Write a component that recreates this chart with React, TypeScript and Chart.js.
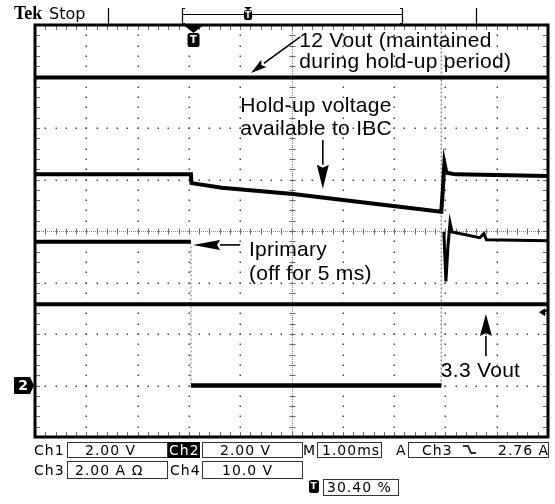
import React, { useEffect, useRef } from "react";
import { Chart, registerables } from "chart.js";

Chart.register(...registerables);

// Horizontal axis: time in ms (10 divisions x 1.00 ms). Vertical axis: screen divisions (-4..4).
const X_MIN = 0;
const X_MAX = 10;
const Y_MIN = -4;
const Y_MAX = 4;

// 12 Vout trace
const vout12T = [0, 10];
const vout12Y = [2.98, 2.98];

// Hold-up voltage available to IBC
const holdupT = [0, 3.04, 3.05, 3.64, 5.03, 7.92, 7.95, 7.98, 8.02, 8.2, 10];
const holdupY = [1.1, 1.1, 0.93, 0.84, 0.72, 0.375, 0.8, 1.32, 1.13, 1.1, 1.07];

// Iprimary (off for ~5 ms)
const iprimPreT = [0, 3.04];
const iprimPreY = [-0.21, -0.21];
const iprimPostT = [7.97, 8.01, 8.05, 8.09, 8.13, 8.67, 8.75, 8.8, 10];
const iprimPostY = [-0.02, -0.98, -0.3, 0.16, -0.02, -0.13, -0.05, -0.17, -0.19];

// 3.3 Vout trace
const vout33T = [0, 10];
const vout33Y = [-1.42, -1.42];

// Ch2 (ground reference marker at -3 div)
const ch2T = [3.04, 7.92];
const ch2Y = [-3, -3];
const ch2FallT = [3.04, 3.04];
const ch2FallY = [-0.3, -3];
const ch2RiseT = [7.92, 7.92];
const ch2RiseY = [-3, 4.2];

// Annotation texts
const noteVout12 = ["12 Vout (maintained", "during hold-up period)"];
const noteHoldup = ["Hold-up voltage", "available to IBC"];
const noteIprim = ["Iprimary", "(off for 5 ms)"];
const noteVout33 = ["3.3 Vout"];

// Readout texts
const chLabels = ["Ch1", "Ch2", "Ch3", "Ch4"];
const chScales = ["2.00 V", "2.00 V", "2.00 A \u03A9", "10.0 V"];
const timebase = "1.00ms";
const trigSource = "Ch3";
const trigLevel = "2.76 A";
const trigPos = "30.40 %";
const trigT = 3.09;
const ch2Ground = -3;
const trigLevelDiv = -1.58;

const pts = (ts: number[], vs: (number | null)[]) => ts.map((t, i) => ({ x: t, y: vs[i] }));

function arrow(ctx: CanvasRenderingContext2D, x1: number, y1: number, x2: number, y2: number, headLen: number, headW: number, lw: number) {
  const ang = Math.atan2(y2 - y1, x2 - x1);
  const bx = x2 - headLen * Math.cos(ang);
  const by = y2 - headLen * Math.sin(ang);
  ctx.lineWidth = lw;
  ctx.beginPath();
  ctx.moveTo(x1, y1);
  ctx.lineTo(bx, by);
  ctx.stroke();
  const nx = (-Math.sin(ang) * headW) / 2;
  const ny = (Math.cos(ang) * headW) / 2;
  ctx.beginPath();
  ctx.moveTo(x2, y2);
  ctx.lineTo(bx + nx, by + ny);
  ctx.lineTo(bx + 3 * Math.cos(ang), by + 3 * Math.sin(ang));
  ctx.lineTo(bx - nx, by - ny);
  ctx.closePath();
  ctx.fill();
}

function tIcon(ctx: CanvasRenderingContext2D, cx: number, top: number, w: number, h: number, fs: number) {
  ctx.fillStyle = "#000";
  ctx.beginPath();
  const l = cx - w / 2;
  const r = 2.5;
  ctx.moveTo(l + r, top);
  ctx.lineTo(l + w - r, top);
  ctx.quadraticCurveTo(l + w, top, l + w, top + r);
  ctx.lineTo(l + w, top + h - r);
  ctx.quadraticCurveTo(l + w, top + h, l + w - r, top + h);
  ctx.lineTo(l + r, top + h);
  ctx.quadraticCurveTo(l, top + h, l, top + h - r);
  ctx.lineTo(l, top + r);
  ctx.quadraticCurveTo(l, top, l + r, top);
  ctx.fill();
  ctx.fillStyle = "#fff";
  ctx.font = `bold ${fs}px "DejaVu Sans"`;
  ctx.textAlign = "center";
  ctx.textBaseline = "middle";
  ctx.fillText("T", cx, top + h / 2 + 0.5);
  ctx.textAlign = "left";
  ctx.textBaseline = "alphabetic";
  ctx.fillStyle = "#000";
}

function box(ctx: CanvasRenderingContext2D, x: number, y: number, w: number, h: number) {
  ctx.lineWidth = 1;
  ctx.strokeStyle = "#333";
  ctx.strokeRect(x + 0.5, y + 0.5, w, h);
}

const scopePlugin = {
  id: "scope",
  beforeDatasetsDraw(chart: any) {
    const { ctx, chartArea: a, scales } = chart;
    const px = (v: number) => scales.x.getPixelForValue(v);
    const py = (v: number) => scales.y.getPixelForValue(v);
    ctx.save();
    // dotted graticule
    ctx.fillStyle = "#444";
    for (let i = X_MIN + 1; i < X_MAX; i++) {
      if (i === 5) continue;
      const gx = Math.round(px(i));
      for (let k = 0; k <= 40; k++) {
        const gy = Math.round(py(Y_MIN + k * 0.2));
        ctx.fillRect(gx - 0.5, gy - 0.5, 1.5, 1.5);
      }
    }
    for (let j = Y_MIN + 1; j < Y_MAX; j++) {
      if (j === 0) continue;
      const gy = Math.round(py(j));
      for (let k = 0; k <= 50; k++) {
        const gx = Math.round(px(X_MIN + k * 0.2));
        ctx.fillRect(gx - 0.5, gy - 0.5, 1.5, 1.5);
      }
    }
    // center cross with minor ticks
    const cy = Math.round(py(0)) + 0.5;
    const cx = Math.round(px(5)) + 0.5;
    ctx.strokeStyle = "#888";
    ctx.lineWidth = 1;
    ctx.setLineDash([1, 1]);
    ctx.beginPath();
    ctx.moveTo(a.left, cy);
    ctx.lineTo(a.right, cy);
    ctx.moveTo(cx, a.top);
    ctx.lineTo(cx, a.bottom);
    ctx.stroke();
    ctx.setLineDash([]);
    ctx.strokeStyle = "#666";
    ctx.beginPath();
    for (let k = 0; k <= 50; k++) {
      const gx = Math.round(px(X_MIN + k * 0.2)) + 0.5;
      ctx.moveTo(gx, cy - 3);
      ctx.lineTo(gx, cy + 3);
      ctx.moveTo(gx, a.top);
      ctx.lineTo(gx, a.top + 5);
      ctx.moveTo(gx, a.bottom);
      ctx.lineTo(gx, a.bottom - 5);
    }
    for (let k = 0; k <= 40; k++) {
      const gy = Math.round(py(Y_MIN + k * 0.2)) + 0.5;
      ctx.moveTo(cx - 3, gy);
      ctx.lineTo(cx + 3, gy);
      ctx.moveTo(a.left, gy);
      ctx.lineTo(a.left + 5, gy);
      ctx.moveTo(a.right, gy);
      ctx.lineTo(a.right - 5, gy);
    }
    ctx.stroke();
    ctx.restore();
  },
  afterDatasetsDraw(chart: any) {
    const { ctx, chartArea: a, scales } = chart;
    const px = (v: number) => scales.x.getPixelForValue(v);
    const py = (v: number) => scales.y.getPixelForValue(v);
    ctx.save();
    // frame
    ctx.strokeStyle = "#000";
    ctx.lineWidth = 3;
    ctx.strokeRect(a.left, a.top, a.right - a.left, a.bottom - a.top);

    // trigger position marker
    const tx = px(trigT);
    ctx.fillStyle = "#000";
    ctx.beginPath();
    ctx.moveTo(tx - 10, a.top);
    ctx.lineTo(tx + 10, a.top);
    ctx.lineTo(tx, a.top + 8);
    ctx.closePath();
    ctx.fill();
    tIcon(ctx, tx, a.top + 8, 12, 14, 10);

    // Ch2 ground marker
    const gy = py(ch2Ground);
    ctx.fillStyle = "#000";
    ctx.beginPath();
    ctx.moveTo(a.left - 21, gy - 8.5);
    ctx.lineTo(a.left - 5, gy - 8.5);
    ctx.lineTo(a.left - 1, gy);
    ctx.lineTo(a.left - 5, gy + 8.5);
    ctx.lineTo(a.left - 21, gy + 8.5);
    ctx.closePath();
    ctx.fill();
    ctx.fillStyle = "#fff";
    ctx.font = 'bold 14px "DejaVu Sans"';
    ctx.textAlign = "center";
    ctx.textBaseline = "middle";
    ctx.fillText("2", a.left - 12, gy + 1);
    ctx.textAlign = "left";
    ctx.textBaseline = "alphabetic";

    // trigger level marker on right edge
    const ly = py(trigLevelDiv);
    ctx.fillStyle = "#000";
    ctx.beginPath();
    ctx.moveTo(a.right - 9, ly);
    ctx.lineTo(a.right - 3, ly - 4);
    ctx.lineTo(a.right - 3, ly + 4);
    ctx.closePath();
    ctx.fill();
    ctx.lineWidth = 2;
    ctx.beginPath();
    ctx.moveTo(a.right - 5, ly);
    ctx.lineTo(a.right, ly - 3);
    ctx.stroke();

    // annotations
    ctx.fillStyle = "#000";
    ctx.strokeStyle = "#000";
    ctx.font = '21px "Liberation Sans"';
    (ctx as any).letterSpacing = "0.3px";
    ctx.fillText(noteVout12[0], px(5.15), py(3.57));
    ctx.fillText(noteVout12[1], px(5.15), py(3.16));
    ctx.fillText(noteHoldup[0], px(4.0), py(2.31));
    ctx.fillText(noteHoldup[1], px(4.0), py(1.86));
    ctx.fillText(noteIprim[0], px(4.17), py(-0.49));
    ctx.fillText(noteIprim[1], px(4.17), py(-0.95));
    ctx.fillText(noteVout33[0], px(7.91), py(-2.83));
    (ctx as any).letterSpacing = "0px";

    arrow(ctx, px(5.17), py(3.77), px(4.21), py(3.07), 16, 9, 1.6);
    arrow(ctx, px(5.61), py(1.77), px(5.61), py(0.82), 24, 12, 1.6);
    arrow(ctx, px(4.0), py(-0.27), px(3.08), py(-0.27), 27, 10, 1.6);
    arrow(ctx, px(8.79), py(-2.43), px(8.79), py(-1.61), 22, 12, 1.6);
    ctx.restore();
  },
  afterDraw(chart: any) {
    const { ctx } = chart;
    ctx.save();
    ctx.fillStyle = "#000";
    ctx.strokeStyle = "#000";
    // header
    ctx.font = 'bold 18px "Liberation Serif"';
    ctx.fillText("Tek", 14, 19);
    ctx.font = '16px "DejaVu Sans"';
    ctx.fillText("Stop", 49, 19);
    ctx.lineWidth = 1.2;
    ctx.beginPath();
    ctx.moveTo(108.5, 8);
    ctx.lineTo(108.5, 25);
    ctx.moveTo(476.5, 8);
    ctx.lineTo(476.5, 25);
    ctx.moveTo(185, 8.5);
    ctx.lineTo(182.5, 8.5);
    ctx.lineTo(182.5, 23.5);
    ctx.lineTo(185, 23.5);
    ctx.moveTo(400, 8.5);
    ctx.lineTo(402.5, 8.5);
    ctx.lineTo(402.5, 23.5);
    ctx.lineTo(400, 23.5);
    ctx.moveTo(182.5, 14.5);
    ctx.lineTo(402.5, 14.5);
    ctx.stroke();
    ctx.beginPath();
    ctx.moveTo(244, 7);
    ctx.lineTo(252, 7);
    ctx.lineTo(248, 10);
    ctx.closePath();
    ctx.fill();
    tIcon(ctx, 248, 10, 8, 10, 8);

    // readouts
    ctx.font = '14px "DejaVu Sans"';
    (ctx as any).letterSpacing = "1px";
    const r1 = 455;
    const r2 = 475;
    ctx.fillStyle = "#000";
    ctx.fillText(chLabels[0], 34, r1);
    box(ctx, 67, 442, 100, 15);
    ctx.fillText(chScales[0], 85, r1);
    ctx.fillRect(168, 442, 32, 16);
    ctx.fillStyle = "#fff";
    ctx.fillText(chLabels[1], 169, r1);
    ctx.fillStyle = "#000";
    box(ctx, 202, 442, 100, 15);
    ctx.fillText(chScales[1], 220, r1);
    ctx.fillText("M", 303, r1);
    box(ctx, 317, 442, 64, 15);
    ctx.fillText(timebase, 322, r1);
    ctx.fillText("A", 396, r1);
    box(ctx, 408, 442, 140, 15);
    ctx.fillText(trigSource, 422, r1);
    ctx.fillText(trigLevel, 498, r1);
    ctx.lineWidth = 2;
    ctx.beginPath();
    ctx.moveTo(463, 446);
    ctx.lineTo(468, 446);
    ctx.lineTo(471, 453);
    ctx.lineTo(476, 453);
    ctx.stroke();

    ctx.fillText(chLabels[2], 34, r2);
    box(ctx, 67, 461, 100, 17);
    ctx.fillText(chScales[2], 75, r2);
    ctx.fillText(chLabels[3], 170, r2);
    box(ctx, 202, 461, 100, 17);
    ctx.fillText(chScales[3], 222, r2);

    tIcon(ctx, 314, 480, 10, 13, 9);
    ctx.font = '14px "DejaVu Sans"';
    (ctx as any).letterSpacing = "1px";
    box(ctx, 323, 479, 75, 16);
    ctx.fillText(trigPos, 327, 492);
    (ctx as any).letterSpacing = "0px";
    ctx.restore();
  },
};

export default function App() {
  const ref = useRef<HTMLCanvasElement>(null);
  useEffect(() => {
    const black = "#000";
    const line = (data: any[], color: string, width: number, extra: any = {}) => ({
      data,
      borderColor: color,
      borderWidth: width,
      pointRadius: 0,
      tension: 0,
      fill: false,
      spanGaps: false,
      ...extra,
    });
    const chart = new Chart(ref.current as HTMLCanvasElement, {
      type: "line",
      data: {
        datasets: [
          line(pts(vout12T, vout12Y), black, 4),
          line(pts(holdupT, holdupY), black, 4),
          line(pts(iprimPreT, iprimPreY), black, 4),
          line(pts(iprimPostT, iprimPostY), black, 3),
          line(pts(vout33T, vout33Y), black, 4),
          line(pts(ch2T, ch2Y), black, 4.5),
          line(pts(ch2FallT, ch2FallY), "#a0a0a0", 1.5, { borderDash: [2, 2] }),
          line(pts(ch2RiseT, ch2RiseY), "#8c8c8c", 1.5, { borderDash: [2, 2] }),
        ],
      },
      options: {
        animation: false,
        responsive: false,
        maintainAspectRatio: false,
        layout: { padding: { left: 35, right: 7, top: 25, bottom: 67 } },
        scales: {
          x: { type: "linear", min: X_MIN, max: X_MAX, display: false },
          y: { type: "linear", min: Y_MIN, max: Y_MAX, display: false },
        },
        plugins: { legend: { display: false }, tooltip: { enabled: false } },
      },
      plugins: [scopePlugin],
    } as any);
    return () => chart.destroy();
  }, []);
  return (
    <div style={{ position: "absolute", left: 0, top: 0, width: 555, height: 504, background: "#fff" }}>
      <canvas ref={ref} width={555} height={504} style={{ display: "block", width: 555, height: 504 }} />
    </div>
  );
}
